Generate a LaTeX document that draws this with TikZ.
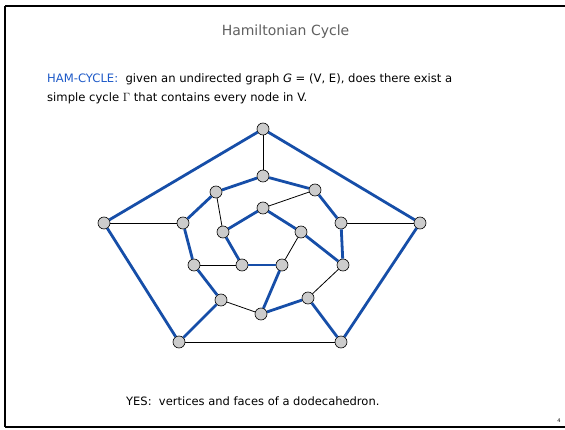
\documentclass[tikz,border=0pt]{standalone}
\usepackage{fontspec}
\setmainfont{DejaVu Sans}
\definecolor{hamblue}{RGB}{22,78,168}
\definecolor{txtblue}{RGB}{30,90,200}
\definecolor{titlegray}{RGB}{96,96,96}
\definecolor{nodegray}{RGB}{204,204,204}
\begin{document}
\begin{tikzpicture}[x=1pt,y=1pt,
  vtx/.style={circle,draw=black,line width=0.6pt,fill=nodegray,minimum size=12pt,inner sep=0pt},
  cyc/.style={draw=hamblue,line width=2.8pt},
  plain/.style={draw=black,line width=0.8pt},
  frameline/.style={draw=black,line width=2.2pt}]
\fill[white] (0,0) rectangle (565,429);
\useasboundingbox (0,0) rectangle (565,429);
% frame
\coordinate (f1) at (565,423);
\coordinate (f2) at (5,423);
\coordinate (f3) at (5,2);
\coordinate (f4) at (565,2);
\draw[frameline] (f2) -- (f1);
\draw[frameline] (f2) -- (f3);
\draw[frameline] (f3) -- (f4);
% texts
\node[text=titlegray,font=\fontsize{14}{16}\selectfont] (title) at (285.5,397) {Hamiltonian Cycle};
\node[anchor=base west,inner sep=0pt,font=\fontsize{11.6}{14}\selectfont] (l1) at (47,346)
  {\textcolor{txtblue}{HAM-CYCLE:}\ \ given an undirected graph \textit{G} = (V, E), does there exist a};
\node[anchor=base west,inner sep=0pt,font=\fontsize{11.6}{14}\selectfont] (l2) at (47,327)
  {simple cycle $\Gamma$ that contains every node in V.};
\node[anchor=base west,inner sep=0pt,font=\fontsize{11.5}{14}\selectfont] (yes) at (126,24)
  {YES:\ \ vertices and faces of a dodecahedron.};
\node[inner sep=0pt,font=\fontsize{5}{6}\selectfont] (pg) at (559,8) {4};
% vertices
\node[vtx] (T) at (263,300) {};
\node[vtx] (L) at (104,206) {};
\node[vtx] (R) at (420,206) {};
\node[vtx] (BL) at (179,87) {};
\node[vtx] (BR) at (341,87) {};
\node[vtx] (M0) at (263,253) {};
\node[vtx] (M1) at (315,239) {};
\node[vtx] (M2) at (341,206) {};
\node[vtx] (M3) at (343,164) {};
\node[vtx] (M4) at (308,131) {};
\node[vtx] (M5) at (261,115) {};
\node[vtx] (M6) at (221,129) {};
\node[vtx] (M7) at (194,164) {};
\node[vtx] (M8) at (183,206) {};
\node[vtx] (M9) at (216,237) {};
\node[vtx] (I0) at (263,221) {};
\node[vtx] (I1) at (301,197) {};
\node[vtx] (I2) at (282,164) {};
\node[vtx] (I3) at (242,164) {};
\node[vtx] (I4) at (223,197) {};
% cycle edges
\draw[cyc] (T) -- (L);
\draw[cyc] (T) -- (R);
\draw[cyc] (L) -- (BL);
\draw[cyc] (R) -- (BR);
\draw[cyc] (BL) -- (M6);
\draw[cyc] (BR) -- (M4);
\draw[cyc] (M0) -- (M1);
\draw[cyc] (M1) -- (M2);
\draw[cyc] (M2) -- (M3);
\draw[cyc] (M4) -- (M5);
\draw[cyc] (M6) -- (M7);
\draw[cyc] (M7) -- (M8);
\draw[cyc] (M8) -- (M9);
\draw[cyc] (M9) -- (M0);
\draw[cyc] (M3) -- (I1);
\draw[cyc] (M5) -- (I2);
\draw[cyc] (I0) -- (I1);
\draw[cyc] (I2) -- (I3);
\draw[cyc] (I3) -- (I4);
\draw[cyc] (I4) -- (I0);
% other edges
\draw[plain] (BL) -- (BR);
\draw[plain] (T) -- (M0);
\draw[plain] (L) -- (M8);
\draw[plain] (R) -- (M2);
\draw[plain] (M3) -- (M4);
\draw[plain] (M5) -- (M6);
\draw[plain] (M1) -- (I0);
\draw[plain] (M7) -- (I3);
\draw[plain] (M9) -- (I4);
\draw[plain] (I1) -- (I2);
\end{tikzpicture}
\end{document}
